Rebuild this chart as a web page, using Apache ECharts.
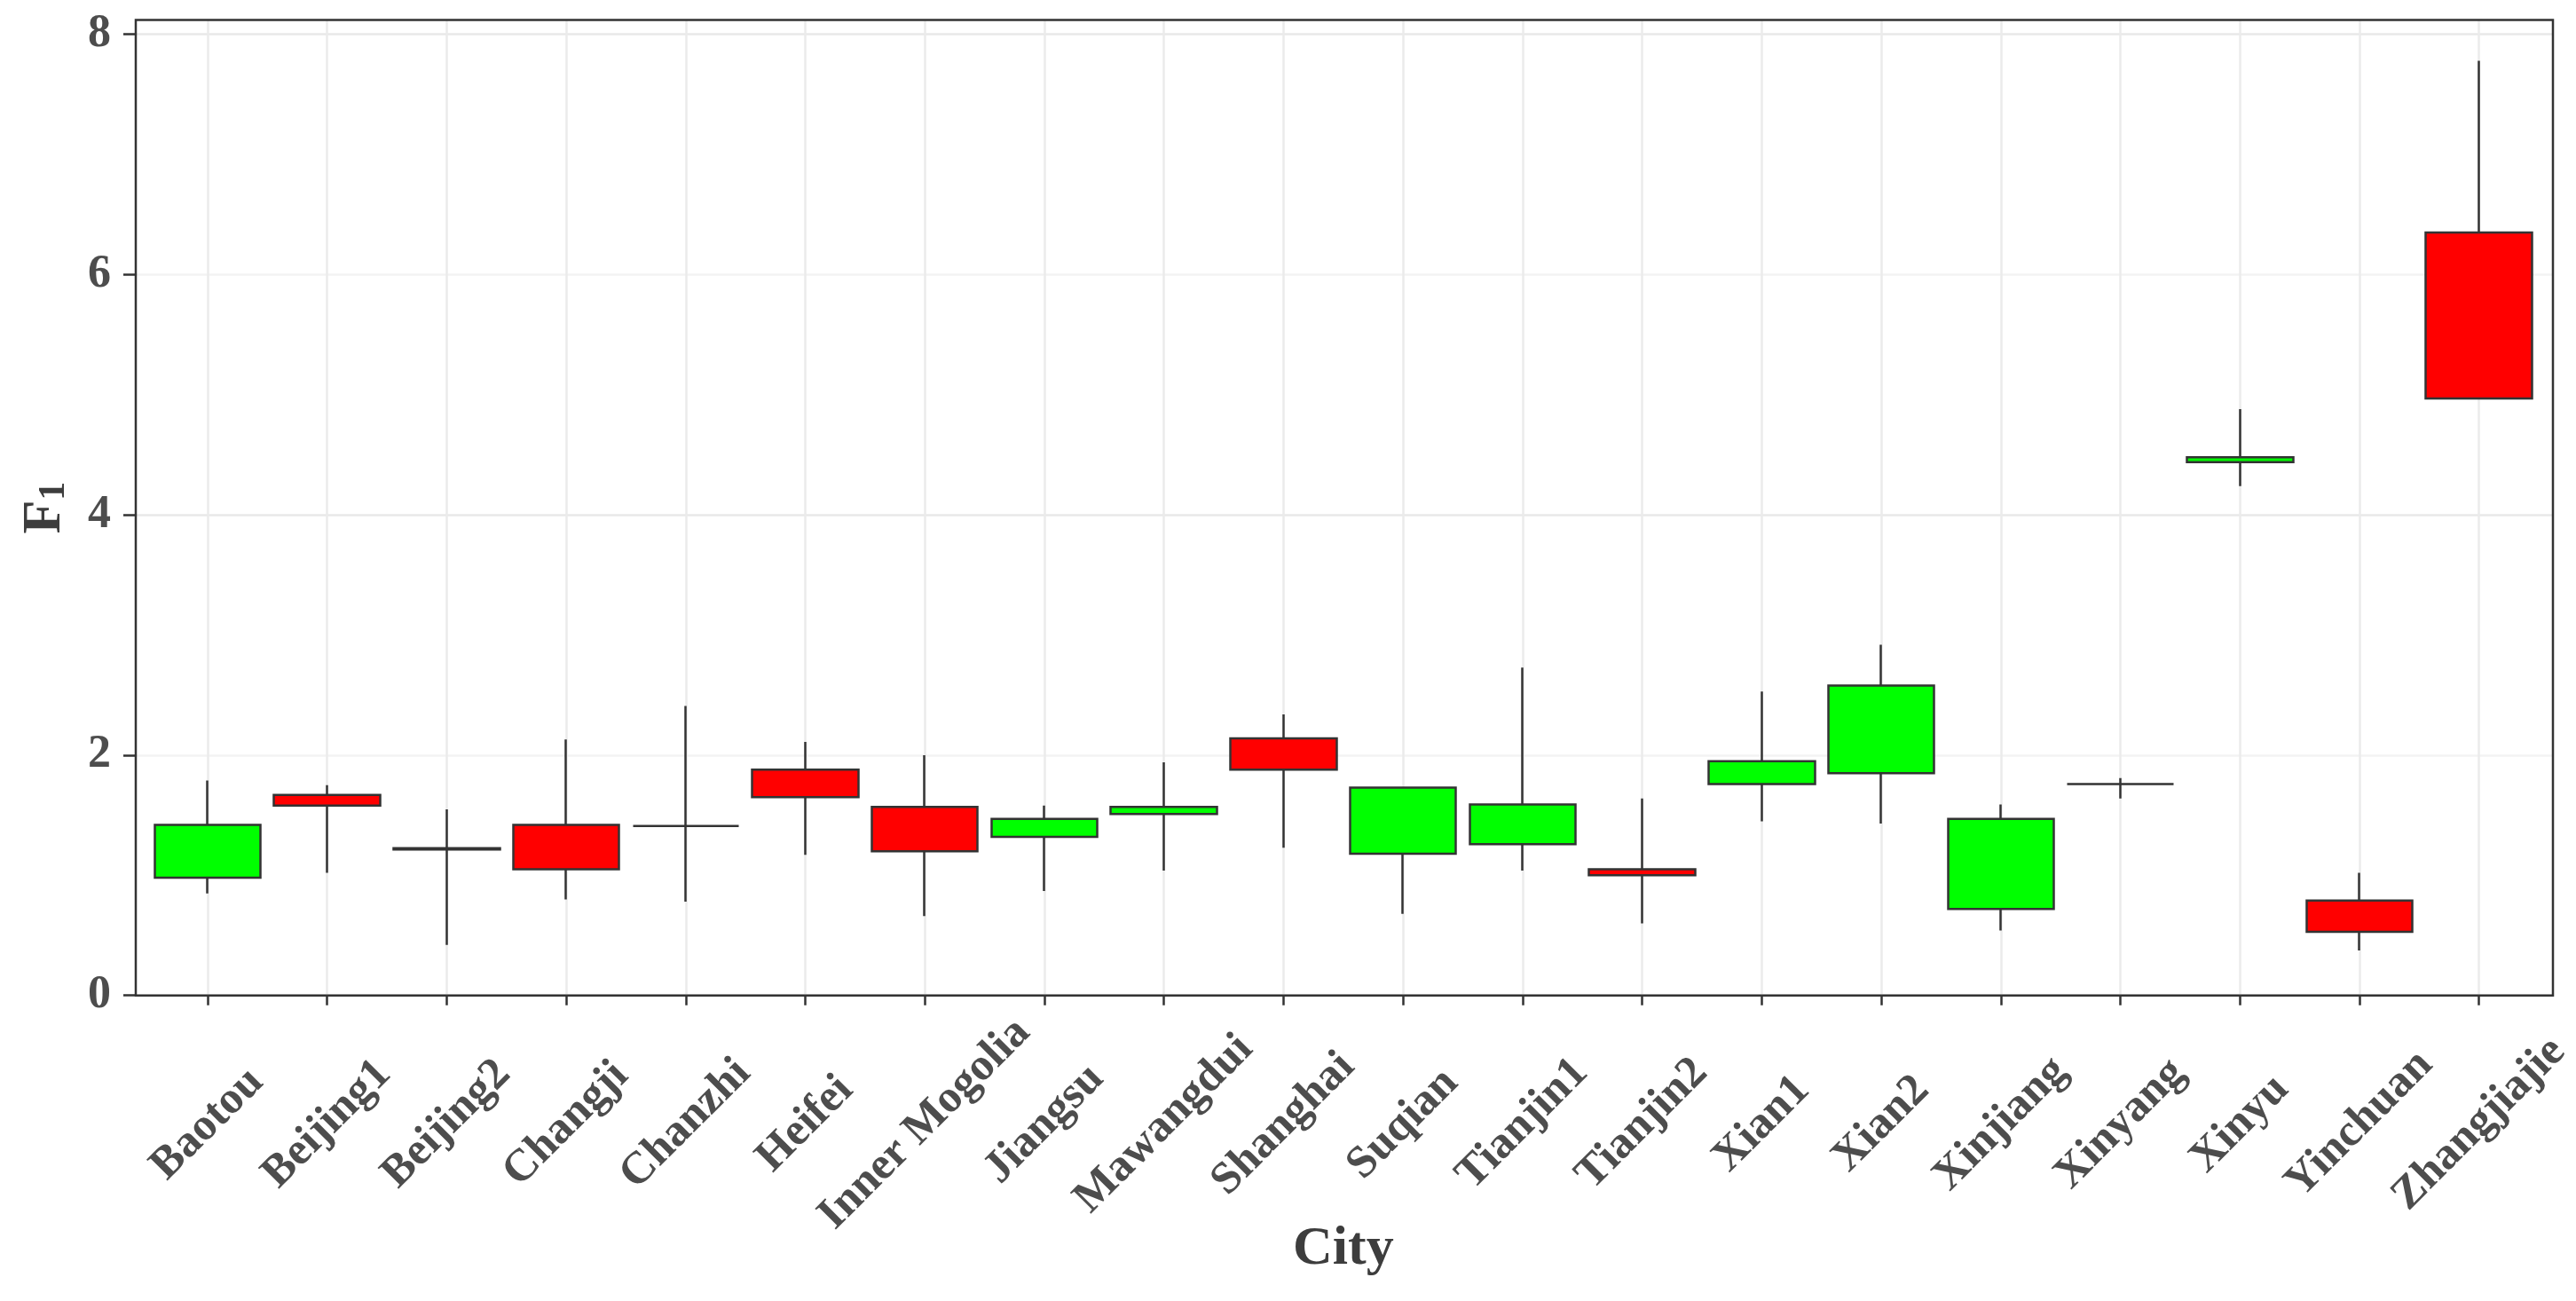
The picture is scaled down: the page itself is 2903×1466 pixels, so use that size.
<!DOCTYPE html>
<html>
<head>
<meta charset="utf-8">
<script src="https://cdn.jsdelivr.net/npm/echarts@6/dist/echarts.min.js"></script>
<style>
html, body { margin: 0; padding: 0; background: #fff; }
#chart { width: 2903px; height: 1466px; }
</style>
</head>
<body>
<div id="chart"></div>
<script>
var cities = ['Baotou', 'Beijing1', 'Beijing2', 'Changji', 'Chanzhi', 'Heifei', 'Inner Mogolia', 'Jiangsu',
    'Mawangdui', 'Shanghai', 'Suqian', 'Tianjin1', 'Tianjin2', 'Xian1', 'Xian2', 'Xinjiang', 'Xinyang',
    'Xinyu', 'Yinchuan', 'Zhangjiajie'];
var openVals  = [0.98, 1.67, 1.225, 1.42, 1.41, 1.88, 1.57, 1.32, 1.51, 2.14, 1.18, 1.26, 1.05, 1.76, 1.85, 0.72, 1.76, 4.44, 0.79, 6.35];
var closeVals = [1.42, 1.58, 1.215, 1.05, 1.41, 1.65, 1.20, 1.47, 1.57, 1.88, 1.73, 1.59, 1.00, 1.95, 2.58, 1.47, 1.76, 4.48, 0.53, 4.97];
var lowVals   = [0.85, 1.02, 0.42, 0.80, 0.78, 1.17, 0.66, 0.87, 1.04, 1.23, 0.68, 1.04, 0.60, 1.45, 1.43, 0.54, 1.64, 4.24, 0.375, 4.97];
var highVals  = [1.79, 1.75, 1.55, 2.13, 2.41, 2.11, 2.00, 1.58, 1.94, 2.34, 1.73, 2.73, 1.64, 2.53, 2.92, 1.59, 1.81, 4.88, 1.02, 7.78];
var yTicks = [0, 2, 4, 6, 8];

var font = 'Liberation Serif';
var myChart = echarts.init(document.getElementById('chart'));

// echarts candlestick order: open, close, lowest, highest
var candles = cities.map(function (c, i) {
    return [openVals[i], closeVals[i], lowVals[i], highVals[i]];
});

var option = {
    backgroundColor: '#fff',
    animation: false,
    grid: [
        // plotting grid, narrowed so the category bands match the ggplot expansion
        { left: 166.5, right: 39.5, top: 22.5, bottom: 344.3 },
        // full panel, carries the border, y labels and horizontal grid lines
        { left: 153, right: 26, top: 22.5, bottom: 344.3, show: true, z: 3,
          backgroundColor: 'transparent', borderColor: '#333', borderWidth: 2.5 }
    ],
    xAxis: [
        {
            type: 'category',
            gridIndex: 0,
            data: cities,
            boundaryGap: true,
            axisLine: { show: false },
            axisTick: { show: true, alignWithLabel: true, interval: 0, length: 11,
                        lineStyle: { color: '#333', width: 2.5 } },
            axisLabel: { interval: 0, rotate: 45, align: 'center', verticalAlign: 'middle', margin: 145,
                         fontFamily: font, fontWeight: 'bold', fontSize: 51, color: '#4d4d4d' },
            splitLine: { show: true, alignWithLabel: true, interval: 0,
                         lineStyle: { color: '#ebebeb', width: 2.5 } },
            name: 'City',
            nameLocation: 'middle',
            nameGap: 255,
            nameMoveOverlap: false,
            nameTextStyle: { fontFamily: font, fontWeight: 'bold', fontSize: 62, color: '#3d3d3d' }
        },
        { type: 'value', gridIndex: 1, min: 0, max: 1, show: false }
    ],
    yAxis: [
        { type: 'value', gridIndex: 0, min: 0, max: 8.12, show: false },
        {
            type: 'value',
            gridIndex: 1,
            min: 0,
            max: 8.12,
            interval: 1,
            axisLine: { show: false },
            axisTick: { show: true, customValues: yTicks, length: 14,
                        lineStyle: { color: '#333', width: 2.5 } },
            axisLabel: { customValues: yTicks, margin: 28,
                         fontFamily: font, fontWeight: 'bold', fontSize: 52, color: '#4d4d4d' },
            splitLine: { show: true, lineStyle: { color: ['#e8e8e8', '#f3f3f3'], width: 2.5 } },
            name: 'F{sub|1}',
            nameLocation: 'middle',
            nameRotate: 90,
            nameGap: 71,
            nameMoveOverlap: false,
            nameTextStyle: {
                fontFamily: font, fontWeight: 'bold', fontSize: 62, color: '#3d3d3d',
                rich: {
                    sub: { fontFamily: font, fontWeight: 'bold', fontSize: 42, color: '#3d3d3d', verticalAlign: 'bottom' }
                }
            }
        }
    ],
    series: [
        {
            type: 'candlestick',
            xAxisIndex: 0,
            yAxisIndex: 0,
            data: candles,
            barWidth: 120,
            z: 2,
            itemStyle: {
                color: '#00ff00',
                color0: '#ff0000',
                borderColor: '#333',
                borderColor0: '#333',
                borderColorDoji: '#333',
                borderWidth: 2.5
            }
        }
    ]
};

myChart.setOption(option);
</script>
</body>
</html>
